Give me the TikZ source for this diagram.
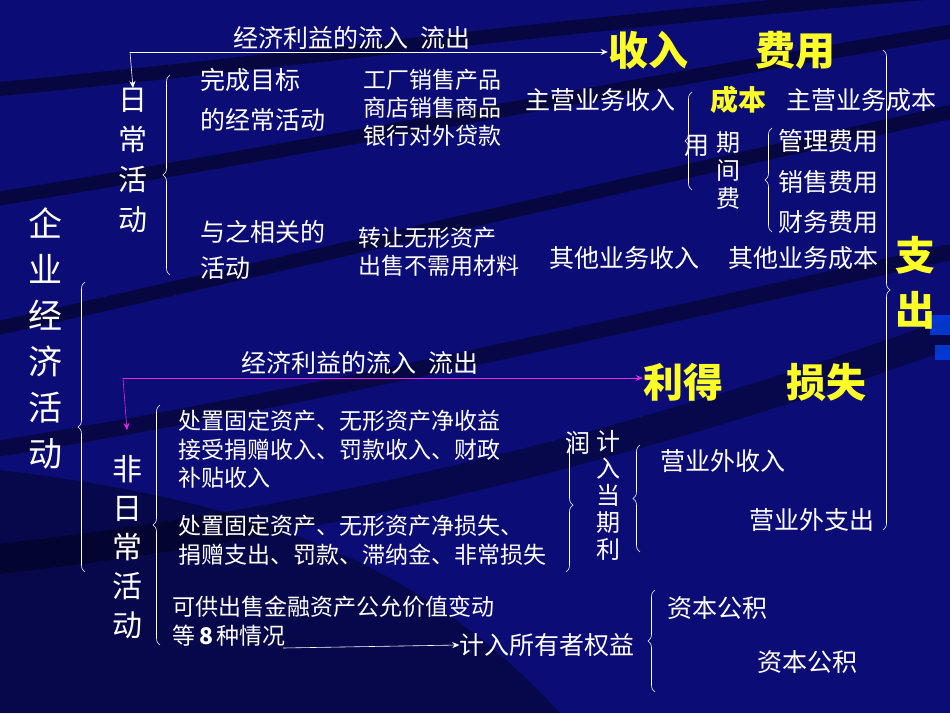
\documentclass[tikz,border=0pt]{standalone}
\usepackage{fontspec}
\setmainfont{Noto Sans CJK SC}
\usetikzlibrary{decorations.pathreplacing,arrows.meta}
\definecolor{bg}{RGB}{12,12,118}
\definecolor{yel}{RGB}{255,255,40}
\definecolor{mag}{RGB}{230,40,230}
\newcommand{\fs}[1]{\fontsize{#1}{#1}\selectfont}
\tikzset{
 t/.style={text=white,inner sep=0pt,font=\fs{25}},
 tl/.style={t,anchor=west},
 sm/.style={tl,font=\fs{23}},
 big/.style={text=yel,inner sep=0pt,font=\fs{40}\bfseries},
 vert/.style={text=white,inner sep=0pt,align=center,anchor=north},
 br/.style={draw=white,line width=0.6pt,decorate,decoration={brace,amplitude=7pt}},
 arr/.style={draw=white,line width=1pt,-{Stealth[length=7pt,width=6pt]}},
}
\begin{document}
\begin{tikzpicture}[x=1pt,y=-1pt]
\fill[bg] (0,0) rectangle (950,713);
\useasboundingbox (0,0) rectangle (950,713);
% background swooshes
\begin{scope}[line cap=round]
\draw[black,opacity=0.45,line width=14pt] (-10,90) .. controls (300,60) and (600,20) .. (960,-10);
\draw[black,opacity=0.45,line width=14pt] (-10,200) .. controls (300,150) and (600,90) .. (960,30);
\draw[black,opacity=0.45,line width=14pt] (-10,330) .. controls (300,260) and (600,190) .. (960,110);
\draw[black,opacity=0.4,line width=16pt] (-10,450) .. controls (300,400) and (600,330) .. (960,250);
\draw[black,opacity=0.35,line width=30pt] (-10,560) .. controls (350,520) and (650,440) .. (960,330);
\fill[black,opacity=0.35] (0,470) .. controls (250,500) and (420,560) .. (560,713) -- (0,713) -- cycle;
\end{scope}
\fill[blue!70!cyan,opacity=0.7] (930,315) rectangle (950,335);
\fill[blue!70!cyan,opacity=0.7] (935,345) rectangle (950,360);
% top arrow
\node[t] (flow1) at (352,38) {经济利益的流入\ \ 流出};
\coordinate (c1) at (130,52);
\node[big] (shouru) at (648,50) {收入};
\node[big] (feiyong) at (795,50) {费用};
\draw[arr] (c1) -- (shouru.west|-c1);
\node[vert,font=\fontsize{29}{40}\selectfont] (rc) at (133,88) {日\\常\\活\\动};
\draw[arr,line width=0.6pt] (c1) -- (rc.north);
% left
\node[vert,font=\fontsize{34}{46}\selectfont] (qy) at (45,207) {企\\业\\经\\济\\活\\动};
\draw[br] (85,572) -- (85,282);
\draw[br] (170,275) -- (170,75);
\node[tl] (wc1) at (200,80) {完成目标};
\node[tl] (wc2) at (200,120) {的经常活动};
\node[sm] (g1) at (363,80) {工厂销售产品};
\node[sm] (g2) at (363,108) {商店销售商品};
\node[sm] (g3) at (363,136) {银行对外贷款};
\node[t] (zy) at (600,100) {主营业务收入};
\node[text=yel,inner sep=0pt,font=\fs{28}\bfseries] (cb) at (738,100) {成本};
\node[t] (zc) at (861,100) {主营业务成本};
\draw[br] (692,190) -- (692,92);
\node[t] (yong) at (697,146) {用};
\node[vert,font=\fontsize{24}{28}\selectfont] (qjf) at (728,131) {期\\间\\费};
\draw[br] (772,232) -- (772,128);
\node[t] (gl) at (828,141) {管理费用};
\node[t] (xs) at (828,182) {销售费用};
\node[t] (cw) at (828,222) {财务费用};
\node[tl] (yz1) at (200,232) {与之相关的};
\node[tl] (yz2) at (200,268) {活动};
\node[sm] (zr1) at (358,238) {转让无形资产};
\node[sm] (zr2) at (358,266) {出售不需用材料};
\node[t] (qt1) at (624,258) {其他业务收入};
\node[t] (qt2) at (803,258) {其他业务成本};
\draw[br] (883,50) -- (883,530);
\node[vert,text=yel,font=\fontsize{40}{55}\selectfont\bfseries] (zc2) at (915,236) {支\\出};
% middle arrow
\node[t] (flow2) at (360,363) {经济利益的流入\ \ 流出};
\coordinate (c2) at (123,378);
\node[big] (lide) at (683,382) {利得};
\node[big] (ss) at (826,382) {损失};
\draw[arr,draw=mag] (c2) -- (lide.west|-c2);
\node[vert,font=\fontsize{30}{39}\selectfont] (frc) at (127,455) {非\\日\\常\\活\\动};
\draw[arr,draw=mag,line width=0.6pt] (c2) -- (127,430);
\draw[br] (160,645) -- (160,405);
\node[sm] (p1) at (178,421) {处置固定资产、无形资产净收益};
\node[sm] (p2) at (178,450) {接受捐赠收入、罚款收入、财政};
\node[sm] (p3) at (178,478) {补贴收入};
\node[sm] (p4) at (178,526) {处置固定资产、无形资产净损失、};
\node[sm] (p5) at (178,555) {捐赠支出、罚款、滞纳金、非常损失};
\draw[br] (566,438) -- (566,572);
\node[t] (run) at (578,443) {润};
\node[vert,font=\fontsize{24}{27}\selectfont] (jr) at (608,430) {计\\入\\当\\期\\利};
\draw[br] (640,552) -- (640,445);
\node[t] (yw1) at (723,461) {营业外收入};
\node[t] (yw2) at (812,520) {营业外支出};
\node[sm] (k1) at (172,607) {可供出售金融资产公允价值变动};
\node[sm] (k2) at (172,636) {等\,\textbf{8}\,种情况};
\node[t] (jrsy) at (547,645) {计入所有者权益};
\draw[arr,line width=0.6pt] (283,648) -- (jrsy.west);
\draw[br] (655,692) -- (655,590);
\node[t] (zb1) at (717,608) {资本公积};
\node[t] (zb2) at (807,662) {资本公积};
\end{tikzpicture}
\end{document}
